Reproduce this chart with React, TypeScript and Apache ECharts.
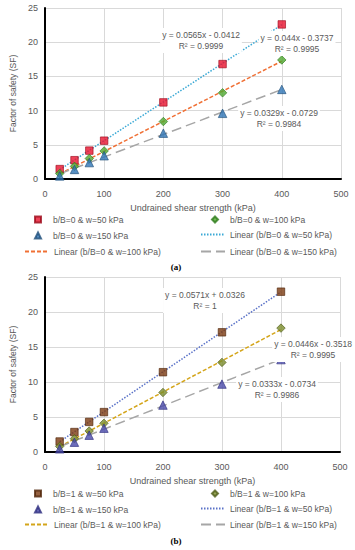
import React, { useEffect, useRef } from 'react';
import * as echarts from 'echarts';

// Undrained shear strength (kPa)
const xValues = [25, 50, 75, 100, 200, 300, 400];
// Panel (a): b/B = 0
const aW50 = [1.45, 2.75, 4.15, 5.6, 11.2, 16.8, 22.6];
const aW100 = [0.8, 1.85, 3.0, 4.1, 8.4, 12.6, 17.4];
const aW150 = [0.45, 1.4, 2.4, 3.4, 6.7, 9.6, 13.1];
// Panel (b): b/B = 1
const bW50 = [1.5, 2.85, 4.3, 5.7, 11.4, 17.1, 22.9];
const bW100 = [0.8, 1.9, 3.0, 4.1, 8.5, 12.8, 17.7];
const bW150 = [0.45, 1.4, 2.4, 3.4, 6.7, 9.7, 13.2];
// Linear trendline end points (x = 25 and x = 400)
const trendX = [25, 400];
const aT50 = [1.37, 22.56];
const aT100 = [0.73, 17.23];
const aT150 = [0.75, 13.09];
const bT50 = [1.46, 22.87];
const bT100 = [0.76, 17.49];
const bT150 = [0.76, 13.25];
// Trendline equations
const aEq = [
  'y = 0.0565x - 0.0412\nR² = 0.9999',
  'y = 0.044x - 0.3737\nR² = 0.9995',
  'y = 0.0329x - 0.0729\nR² = 0.9984',
];
const bEq = [
  'y = 0.0571x + 0.0326\nR² = 1',
  'y = 0.0446x - 0.3518\nR² = 0.9995',
  'y = 0.0333x - 0.0734\nR² = 0.9986',
];
const xTicks = [0, 100, 200, 300, 400, 500];

const FONT = 'Liberation Sans';
const GRAY = '#595959';

const pts = (ys: number[]) => xValues.map((x, i) => [x, ys[i]]);
const tpts = (ys: number[]) => trendX.map((x, i) => [x, ys[i]]);

export default function App() {
  const ref = useRef<HTMLDivElement>(null);
  useEffect(() => {
    if (!ref.current) return;
    const chart = echarts.init(ref.current, undefined, { renderer: 'svg' });

    const grids = [
      { left: 43, top: 8, width: 298, height: 171 },
      { left: 42, top: 277, width: 298, height: 175 },
    ];
    const xAxis = grids.map((_, gi) => ({
      type: 'value', gridIndex: gi, min: 0, max: 500, interval: 100,
      name: 'Undrained shear strength (kPa)', nameLocation: 'middle', nameGap: 24,
      nameTextStyle: { fontFamily: FONT, fontSize: 9, color: GRAY },
      axisLine: { show: true, onZero: false, lineStyle: { color: '#000', width: 2 } },
      axisTick: { show: false },
      axisLabel: { fontFamily: FONT, fontSize: 9, color: GRAY, margin: 10, formatter: (v: number) => (xTicks.includes(v) ? String(v) : '') },
      splitLine: { show: true, lineStyle: { color: '#d9d9d9', width: 1 } },
    }));
    const yAxis = grids.map((_, gi) => ({
      type: 'value', gridIndex: gi, min: 0, max: 25, interval: 5,
      name: 'Factor of safety (SF)', nameLocation: 'middle', nameGap: 25,
      nameTextStyle: { fontFamily: FONT, fontSize: 8.5, color: GRAY },
      axisLine: { show: true, lineStyle: { color: '#000', width: 2 } },
      axisTick: { show: false },
      axisLabel: { fontFamily: FONT, fontSize: 9, color: GRAY, margin: 7 },
      splitLine: { show: true, lineStyle: { color: '#d9d9d9', width: 1 } },
    }));

    const panels = [
      {
        tag: '0', w50: aW50, w100: aW100, w150: aW150, t50: aT50, t100: aT100, t150: aT150,
        c50: '#e8112d', b50: '#9c0a1a', c100: '#4ea72e', b100: '#2d7a1a', c150: '#2e74b5', b150: '#1f4e79',
        l50: '#3aa9d6', l100: '#f07035', l150: '#a6a6a6',
      },
      {
        tag: '1', w50: bW50, w100: bW100, w150: bW150, t50: bT50, t100: bT100, t150: bT150,
        c50: '#7b3a10', b50: '#4f2408', c100: '#7a8c2a', b100: '#4f5c18', c150: '#4a4aaa', b150: '#2e2e80',
        l50: '#5a72c8', l100: '#d4a51a', l150: '#a6a6a6',
      },
    ];

    const series: any[] = [];
    const legends: any[] = [];
    const rowTops = [[214, 230, 247], [488, 504, 520]];
    panels.forEach((p, gi) => {
      const n50 = `b/B=${p.tag} & w=50 kPa`;
      const n100 = `b/B=${p.tag} & w=100 kPa`;
      const n150 = `b/B=${p.tag} & w=150 kPa`;
      const ln50 = `Linear (b/B=${p.tag} & w=50 kPa)`;
      const ln100 = `Linear (b/B=${p.tag} & w=100 kPa)`;
      const ln150 = `Linear (b/B=${p.tag} & w=150 kPa)`;
      const ax = { xAxisIndex: gi, yAxisIndex: gi };
      series.push(
        { type: 'line', name: ln50, ...ax, data: tpts(p.t50), symbol: 'none', showSymbol: false, z: 2, lineStyle: { color: p.l50, width: 1.5, type: [1.5, 1.5] }, itemStyle: { color: p.l50 } },
        { type: 'line', name: ln100, ...ax, data: tpts(p.t100), symbol: 'none', showSymbol: false, z: 2, lineStyle: { color: p.l100, width: 1.5, type: [4, 2] }, itemStyle: { color: p.l100 } },
        { type: 'line', name: ln150, ...ax, data: tpts(p.t150), symbol: 'none', showSymbol: false, z: 2, lineStyle: { color: p.l150, width: 1.5, type: [10, 5] }, itemStyle: { color: p.l150 } },
        { type: 'scatter', name: n50, ...ax, data: pts(p.w50), symbol: 'rect', symbolSize: 7.5, z: 3, itemStyle: { color: p.c50, borderColor: p.b50, borderWidth: 0.8 } },
        { type: 'scatter', name: n100, ...ax, data: pts(p.w100), symbol: 'diamond', symbolSize: 8.5, z: 3, itemStyle: { color: p.c100, borderColor: p.b100, borderWidth: 0.8 } },
        { type: 'scatter', name: n150, ...ax, data: pts(p.w150), symbol: 'triangle', symbolSize: 8.5, z: 3, itemStyle: { color: p.c150, borderColor: p.b150, borderWidth: 0.8 } },
      );
      const tops = rowTops[gi];
      const ts = { fontFamily: FONT, fontSize: 8.5, color: GRAY };
      const mk = (name: string, left: number, top: number, w: number, h: number, pad: number, isLine: boolean) => ({
        show: true, data: [name], left, top, itemWidth: w, itemHeight: h, selectedMode: false,
        padding: 0, textStyle: { ...ts, padding: [0, 0, 0, pad] },
        ...(isLine ? { itemStyle: { opacity: 0 } } : {}),
      });
      legends.push(
        mk(n50, 34, tops[0] + 1, 6, 6, 7, false),
        mk(n100, 211, tops[0] + 1, 6, 6, 7, false),
        mk(n150, 34, tops[1] + 1, 6, 6, 7, false),
        mk(ln50, 200, tops[1], 24, 8, 0, true),
        mk(ln100, 24, tops[2], 24, 8, 0, true),
        mk(ln150, 200, tops[2], 24, 8, 0, true),
      );
    });

    const eqText = (text: string, x: number, y: number) => ({
      type: 'text', x, y, z: 10,
      style: {
        text, fill: GRAY, font: `8.5px "${FONT}"`, align: 'center', verticalAlign: 'top',
        lineHeight: 11.5, backgroundColor: '#ffffff', padding: [1, 2, 1, 2],
      },
    });
    const graphic = [
      eqText(aEq[0], 201, 28),
      eqText(aEq[1], 297, 31),
      eqText(aEq[2], 279, 106),
      eqText(bEq[0], 205, 288),
      eqText(bEq[1], 313, 337),
      eqText(bEq[2], 277, 377),
      { type: 'text', x: 176, y: 262, style: { text: '(a)', fill: '#000', font: 'bold 9px "Liberation Serif"', align: 'center', verticalAlign: 'top' } },
      { type: 'text', x: 176, y: 536, style: { text: '(b)', fill: '#000', font: 'bold 9px "Liberation Serif"', align: 'center', verticalAlign: 'top' } },
    ];

    chart.setOption({
      animation: false,
      backgroundColor: '#ffffff',
      grid: grids,
      xAxis,
      yAxis,
      legend: legends,
      series,
      graphic,
    } as any);
    return () => chart.dispose();
  }, []);
  return <div ref={ref} style={{ position: 'absolute', left: 0, top: 0, width: 355, height: 550 }} />;
}
